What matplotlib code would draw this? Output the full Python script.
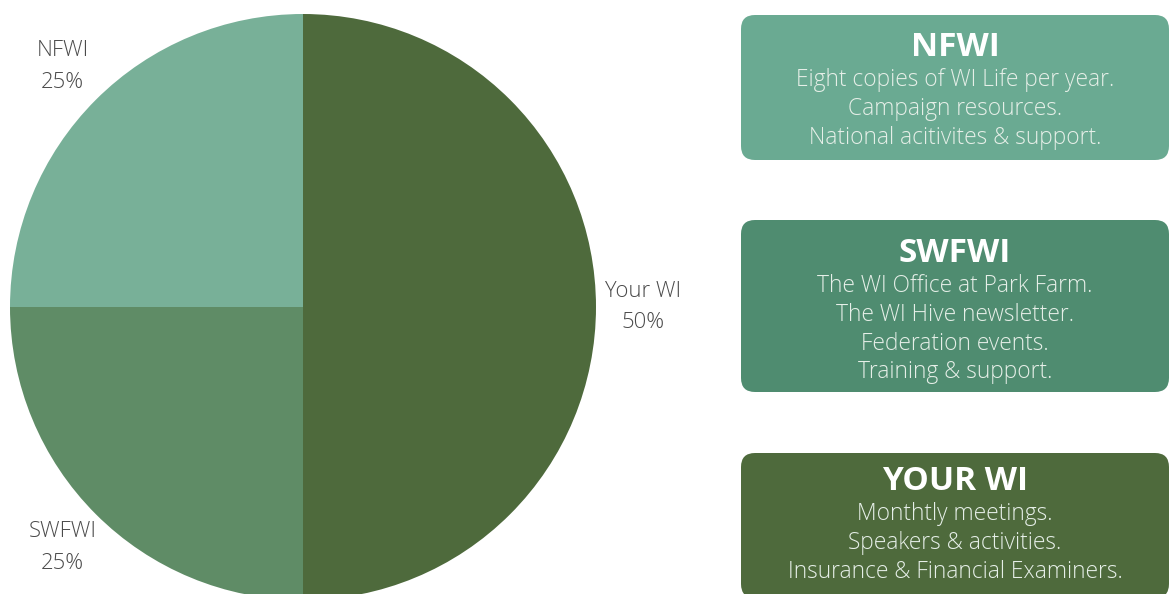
import matplotlib
matplotlib.use("Agg")
import matplotlib.pyplot as plt
from matplotlib.patches import FancyBboxPatch

plt.rcParams["font.family"] = ["Open Sans", "DejaVu Sans"]

# pie data
names = ["Your WI", "SWFWI", "NFWI"]
shares = [50, 25, 25]
pie_colors = ["#4e6a3c", "#5f8c66", "#78b098"]

# info boxes
box_titles = ["NFWI", "SWFWI", "YOUR WI"]
box_lines = [
    ["Eight copies of WI Life per year.", "Campaign resources.", "National acitivites & support."],
    ["The WI Office at Park Farm.", "The WI Hive newsletter.", "Federation events.", "Training & support."],
    ["Monthtly meetings.", "Speakers & activities.", "Insurance & Financial Examiners."],
]
box_colors = ["#6aaa92", "#4f8c70", "#4e6a3c"]

W, H = 1169, 594
fig = plt.figure(figsize=(W / 100, H / 100), dpi=100)
fig.patch.set_facecolor("white")

# pie axes placed in pixel units
cx, cy, r = 303, 307, 293
ax = fig.add_axes([(cx - r) / W, (H - cy - r) / H, 2 * r / W, 2 * r / H])
labels = [f"{n}\n{s}%" for n, s in zip(names, shares)]
wedges, texts = ax.pie(
    shares,
    colors=pie_colors,
    startangle=90,
    counterclock=False,
    labels=labels,
    labeldistance=1.16,
    textprops=dict(fontsize=15.8, color="#4a4a4a", linespacing=1.65,
                   fontweight="light"),
)
for t in texts:
    t.set_ha("center")
    t.set_va("center")
ax.set_xlim(-1, 1)
ax.set_ylim(-1, 1)
ax.set_aspect("equal")

# overlay axes for the boxes, pixel coordinates
ov = fig.add_axes([0, 0, 1, 1])
ov.set_xlim(0, W)
ov.set_ylim(H, 0)
ov.axis("off")

box_rects = [(741, 15, 428, 145), (741, 220, 428, 172), (741, 453, 428, 145)]
title_y = [47, 253, 481]
line_gap = 28.8
for (x0, y0, bw, bh), title, lines, col, ty in zip(box_rects, box_titles, box_lines, box_colors, title_y):
    ov.add_patch(FancyBboxPatch((x0 + 14, y0 + 14), bw - 28, bh - 28,
                                boxstyle="round,pad=14,rounding_size=14",
                                facecolor=col, edgecolor="none"))
    xc = x0 + bw / 2
    ov.text(xc, ty, title, ha="center", va="center", fontsize=24,
            fontweight="bold", color="white")
    for i, line in enumerate(lines):
        ov.text(xc, ty + 33 + i * line_gap, line, ha="center", va="center",
                fontsize=16.4, color="#e6efe8", fontweight="light")

fig.savefig("out.png", dpi=100, facecolor="white")
